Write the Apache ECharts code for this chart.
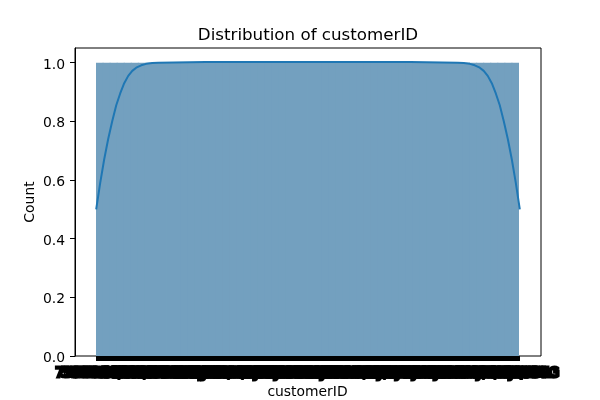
<!DOCTYPE html>
<html>
<head>
<meta charset="utf-8">
<script src="https://cdn.jsdelivr.net/npm/echarts@6/dist/echarts.min.js"></script>
<style>html,body{margin:0;padding:0;background:#fff}#c{width:600px;height:400px}</style>
</head>
<body>
<div id="c"></div>
<script>
// Customer IDs (x categories)
const customerIds = [
  '7590-VHVEG','5575-GNVDE','3668-QPYBK','7795-CFOCW','9237-HQITU','9305-CDSKC','1452-KIOVK','6713-OKOMC','7892-POOKP','6388-TABGU',
  '9763-GRSKD','7469-LKBCI','8091-TTVAX','0280-XJGEX','5129-JLPIS','3655-SNQYZ','8191-XWSZG','9959-WOFKT','4190-MFLUW','4183-MYFRB',
  '8779-QRDMV','1680-VDCWW','1066-JKSGK','3638-WEABW','6322-HRPFA','6865-JZNKO','6467-CHFZW','8665-UTDHZ','5248-YGIJN','8773-HHUOZ',
  '3841-NFECX','4929-XIHVW','6827-IEAUQ','7310-EGVHZ','3413-BMNZE','6234-RAAPL','6047-YHPVI','6572-ADKRS','5380-WJKOV','8168-UQWWF',
  '8865-TNMNX','9489-DEDVP','9867-JCZSP','4671-VJLCL','4080-IIARD','3714-NTNFO','5948-UJZLF','7760-OYPDY','7639-LIAYI','2954-PIBKO',
  '8012-SOUDQ','9420-LOJKX','6575-SUVOI','7495-OOKFY','4667-QONEA','1658-BYGOY','8769-KKTPH','5067-XJQFU','3957-SQXML','5954-BDFSG'
];
// Histogram counts (one per customer)
const counts = [
  1,1,1,1,1,1,1,1,1,1, 1,1,1,1,1,1,1,1,1,1, 1,1,1,1,1,1,1,1,1,1,
  1,1,1,1,1,1,1,1,1,1, 1,1,1,1,1,1,1,1,1,1, 1,1,1,1,1,1,1,1,1,1
];
// KDE curve (x in customer-index units, y in count units)
const kdeX = [-0.5, 0.07, 0.63, 1.2, 1.77, 2.34, 2.9, 3.47, 4.04, 4.61, 5.17, 5.88, 6.59, 7.44, 8.29,
              15, 29.5, 44,
              50.71, 51.56, 52.41, 53.12, 53.83, 54.39, 54.96, 55.53, 56.1, 56.66, 57.23, 57.8, 58.37, 58.93, 59.5];
const kdeY = [0.50, 0.59, 0.67, 0.74, 0.80, 0.855, 0.895, 0.93, 0.955, 0.972, 0.983, 0.991, 0.996, 0.999, 1.0,
              1.002, 1.002, 1.002,
              1.0, 0.999, 0.996, 0.991, 0.983, 0.972, 0.955, 0.93, 0.895, 0.855, 0.80, 0.74, 0.67, 0.59, 0.50];
// Y tick labels
const yTicks = [0, 0.2, 0.4, 0.6, 0.8, 1.0];

const N = customerIds.length;
const font = 'DejaVu Sans';
const kde = kdeX.map((x, i) => [x, kdeY[i]]);

const chart = echarts.init(document.getElementById('c'), null, {renderer: 'canvas'});
chart.setOption({
  animation: false,
  backgroundColor: '#fff',
  title: {
    text: 'Distribution of customerID',
    left: 308, top: 27, textAlign: 'center', padding: 0,
    textStyle: {fontFamily: font, fontSize: 16.7, fontWeight: 'normal', color: '#000'}
  },
  grid: [
    {left: 75, right: 59, top: 48, bottom: 44, show: true, borderColor: '#000', borderWidth: 1,
     backgroundColor: 'transparent', containLabel: false, outerBoundsMode: 'none'},
    {left: 96, right: 81, top: 48, bottom: 44, show: false, containLabel: false, outerBoundsMode: 'none'}
  ],
  xAxis: [
    {type: 'value', gridIndex: 0, min: -0.5 - 0.05 * N, max: N - 0.5 + 0.05 * N, show: false,
     axisLine: {onZero: false}},
    {
      type: 'category', gridIndex: 1, data: customerIds, boundaryGap: true,
      axisLine: {show: false, onZero: false},
      axisTick: {show: true, alignWithLabel: true, interval: 0, length: 5, lineStyle: {color: '#000', width: 8}},
      axisLabel: {show: true, interval: 0, margin: 10, color: '#000', fontFamily: font, fontSize: 13.9,
        hideOverlap: false, textBorderColor: '#000', textBorderWidth: 3},
      splitLine: {show: false},
      name: 'customerID', nameLocation: 'middle', nameGap: 29, nameMoveOverlap: false,
      nameTextStyle: {fontFamily: font, fontSize: 13.9, color: '#000'}
    }
  ],
  yAxis: [
    {
      type: 'value', gridIndex: 0, min: 0, max: 1.05,
      axisLine: {show: true, onZero: false, lineStyle: {color: '#000', width: 1}},
      axisTick: {show: true, length: 5, customValues: yTicks, lineStyle: {color: '#000'}},
      axisLabel: {show: true, margin: 10, customValues: yTicks, color: '#000',
        formatter: v => '{v|' + Number(v).toFixed(1) + '}',
        rich: {v: {fontFamily: font, fontSize: 13.9, color: '#000', padding: [5, 0, 0, 0]}}},
      splitLine: {show: false},
      name: 'Count', nameLocation: 'middle', nameGap: 38, nameMoveOverlap: false,
      nameTextStyle: {fontFamily: font, fontSize: 13.9, color: '#000'}
    },
    {type: 'value', gridIndex: 1, min: 0, max: 1.05, show: false, axisLine: {onZero: false}}
  ],
  series: [
    {
      type: 'bar', xAxisIndex: 1, yAxisIndex: 1, data: counts,
      barWidth: '112%', barGap: '-100%',
      itemStyle: {color: '#73a0bf'},
      z: 1
    },
    {
      type: 'line', xAxisIndex: 0, yAxisIndex: 0, data: kde,
      showSymbol: false, smooth: false,
      lineStyle: {color: '#1f77b4', width: 2},
      z: 5
    }
  ]
});
</script>
</body>
</html>
